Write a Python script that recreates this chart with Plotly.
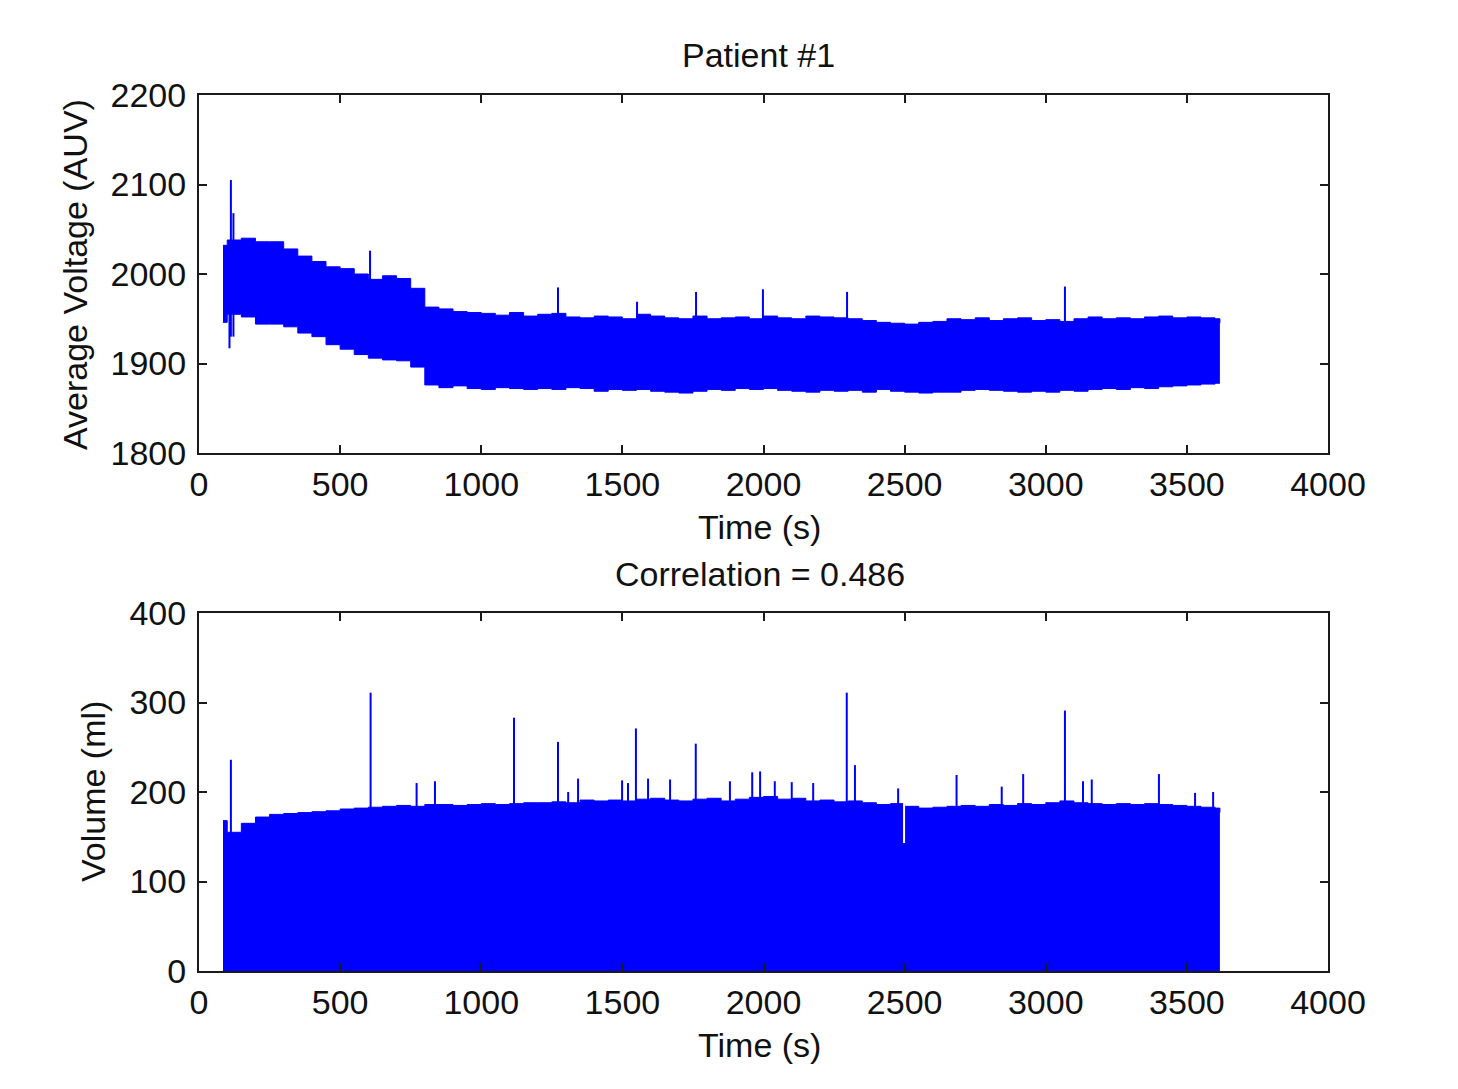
import plotly.graph_objects as go

# ---------------- data ----------------
t = [85, 100, 150, 200, 250, 300, 350, 400, 450, 500, 550, 600, 650, 700, 750, 800,
     850, 900, 950, 1000, 1050, 1100, 1150, 1200, 1250, 1300, 1350, 1400, 1450, 1500,
     1550, 1600, 1650, 1700, 1750, 1800, 1850, 1900, 1950, 2000, 2050, 2100, 2150,
     2200, 2250, 2300, 2350, 2400, 2450, 2500, 2550, 2600, 2650, 2700, 2750, 2800,
     2850, 2900, 2950, 3000, 3050, 3100, 3150, 3200, 3250, 3300, 3350, 3400, 3450,
     3500, 3550, 3600, 3617]

voltage_upper = [2032, 2038, 2040, 2036, 2036, 2028, 2020, 2014, 2008, 2006, 2000, 1994,
                 1998, 1995, 1984, 1963, 1961, 1958, 1957, 1956, 1954, 1957, 1953, 1955,
                 1956, 1952, 1951, 1953, 1952, 1950, 1955, 1953, 1951, 1950, 1953, 1950,
                 1951, 1952, 1950, 1953, 1951, 1950, 1953, 1952, 1951, 1950, 1948, 1946,
                 1945, 1944, 1946, 1947, 1950, 1949, 1951, 1948, 1950, 1951, 1948, 1949,
                 1947, 1950, 1952, 1950, 1951, 1950, 1952, 1953, 1951, 1952, 1951, 1950,
                 1945]

voltage_lower = [1946, 1955, 1952, 1944, 1944, 1941, 1934, 1930, 1921, 1916, 1910, 1906,
                 1904, 1903, 1896, 1876, 1873, 1875, 1872, 1871, 1873, 1872, 1871, 1872,
                 1871, 1873, 1872, 1869, 1871, 1870, 1871, 1869, 1868, 1867, 1869, 1871,
                 1870, 1872, 1871, 1872, 1870, 1869, 1868, 1870, 1869, 1870, 1868, 1871,
                 1869, 1868, 1867, 1868, 1868, 1870, 1871, 1870, 1869, 1868, 1869, 1868,
                 1870, 1869, 1871, 1872, 1871, 1873, 1872, 1874, 1875, 1876, 1877, 1878,
                 1878]

voltage_spike_t = [113, 122, 606, 1272, 1552, 1761, 1998, 2296, 3068]
voltage_spike_v = [2105, 2068, 2026, 1985, 1969, 1980, 1983, 1980, 1986]
voltage_dip_t = [108]
voltage_dip_v = [1917]

volume_upper = [168, 155, 165, 172, 175, 176, 177, 178, 179, 181, 182, 183, 184, 185,
                184, 186, 186, 185, 186, 187, 186, 187, 188, 188, 189, 188, 191, 190,
                191, 190, 192, 193, 191, 190, 192, 193, 190, 192, 194, 195, 192, 193,
                190, 191, 189, 190, 188, 186, 187, 184, 182, 183, 184, 185, 184, 186,
                185, 187, 186, 188, 190, 188, 187, 186, 187, 186, 187, 186, 185, 184,
                183, 182, 177]

volume_spike_t = [113, 608, 771, 836, 1116, 1272, 1308, 1343, 1499, 1520, 1548, 1591,
                  1669, 1760, 1881, 1960, 1988, 2040, 2100, 2176, 2295, 2324, 2477,
                  2684, 2844, 2920, 3068, 3132, 3163, 3401, 3529, 3593]
volume_spike_v = [236, 311, 210, 212, 283, 256, 200, 215, 213, 210, 271, 215, 214, 254,
                  212, 222, 223, 212, 211, 210, 311, 230, 204, 219, 206, 220, 291, 212,
                  214, 220, 199, 200]
volume_dip_t = [2498]
volume_dip_v = [143]

x_ticks = [0, 500, 1000, 1500, 2000, 2500, 3000, 3500, 4000]
voltage_ticks = [1800, 1900, 2000, 2100, 2200]
volume_ticks = [0, 100, 200, 300, 400]

title_top = "Patient #1"
title_bottom = "Correlation = 0.486"
x_label = "Time (s)"
y_label_top = "Average Voltage (AUV)"
y_label_bottom = "Volume (ml)"

BLUE = "#0000FF"
FONT = "Liberation Sans"
FS = 34


def segments(xs, y0s, y1s):
    X, Y = [], []
    for x, a, b in zip(xs, y0s, y1s):
        X += [x, x, None]
        Y += [a, b, None]
    return X, Y


fig = go.Figure()

# ---- top: voltage band ----
fig.add_trace(go.Scatter(x=t, y=voltage_lower, mode="lines", line=dict(color=BLUE, width=1, shape="hv"),
                         xaxis="x", yaxis="y", showlegend=False, hoverinfo="skip"))
fig.add_trace(go.Scatter(x=t, y=voltage_upper, mode="lines", line=dict(color=BLUE, width=1, shape="hv"),
                         fill="tonexty", fillcolor=BLUE, xaxis="x", yaxis="y", showlegend=False))
sx, sy = segments(voltage_spike_t, [1930] * len(voltage_spike_t), voltage_spike_v)
fig.add_trace(go.Scatter(x=sx, y=sy, mode="lines", line=dict(color=BLUE, width=2),
                         xaxis="x", yaxis="y", showlegend=False, hoverinfo="skip"))
dx, dy = segments(voltage_dip_t, [1960] * len(voltage_dip_t), voltage_dip_v)
fig.add_trace(go.Scatter(x=dx, y=dy, mode="lines", line=dict(color=BLUE, width=2),
                         xaxis="x", yaxis="y", showlegend=False, hoverinfo="skip"))

# ---- bottom: volume ----
fig.add_trace(go.Scatter(x=t, y=volume_upper, mode="lines", line=dict(color=BLUE, width=1, shape="hv"),
                         fill="tozeroy", fillcolor=BLUE, xaxis="x2", yaxis="y2", showlegend=False))
sx, sy = segments(volume_spike_t, [150] * len(volume_spike_t), volume_spike_v)
fig.add_trace(go.Scatter(x=sx, y=sy, mode="lines", line=dict(color=BLUE, width=2),
                         xaxis="x2", yaxis="y2", showlegend=False, hoverinfo="skip"))
dx, dy = segments(volume_dip_t, [190] * len(volume_dip_t), volume_dip_v)
fig.add_trace(go.Scatter(x=dx, y=dy, mode="lines", line=dict(color="white", width=2),
                         xaxis="x2", yaxis="y2", showlegend=False, hoverinfo="skip"))

axis_common = dict(showline=True, linecolor="#1a1a1a", linewidth=2, mirror="ticks",
                   ticks="inside", ticklen=8, tickwidth=1.5, tickcolor="#1a1a1a",
                   showgrid=False, zeroline=False, automargin=False,
                   tickfont=dict(family=FONT, size=FS, color="#111"))

W, H = 1458, 1089
px0, px1 = 199, 1328
fig.update_layout(
    width=W, height=H, margin=dict(l=0, r=0, t=0, b=0, autoexpand=False),
    paper_bgcolor="white", plot_bgcolor="white",
    xaxis=dict(domain=[px0 / W, px1 / W], range=[0, 4000], tickvals=x_ticks, anchor="y", **axis_common),
    yaxis=dict(domain=[1 - 453 / H, 1 - 95 / H], range=[1800, 2200], tickvals=voltage_ticks, anchor="x",
               ticklabelstandoff=4, **axis_common),
    xaxis2=dict(domain=[px0 / W, px1 / W], range=[0, 4000], tickvals=x_ticks, anchor="y2", **axis_common),
    yaxis2=dict(domain=[1 - 971 / H, 1 - 613 / H], range=[0, 400], tickvals=volume_ticks, anchor="x2",
                ticklabelstandoff=4, **axis_common),
)

def ann(text, x, y, angle=0):
    return dict(text=text, x=x / W, y=1 - y / H, xref="paper", yref="paper", showarrow=False,
                xanchor="center", yanchor="middle", textangle=angle,
                font=dict(family=FONT, size=FS, color="#111"))

fig.update_layout(annotations=[
    ann(title_top, 758, 55),
    ann(title_bottom, 760, 574),
    ann(x_label, 759, 527),
    ann(x_label, 759, 1045),
    ann(y_label_top, 75, 275, -90),
    ann(y_label_bottom, 93, 792, -90),
])

fig.write_html("out.html")
